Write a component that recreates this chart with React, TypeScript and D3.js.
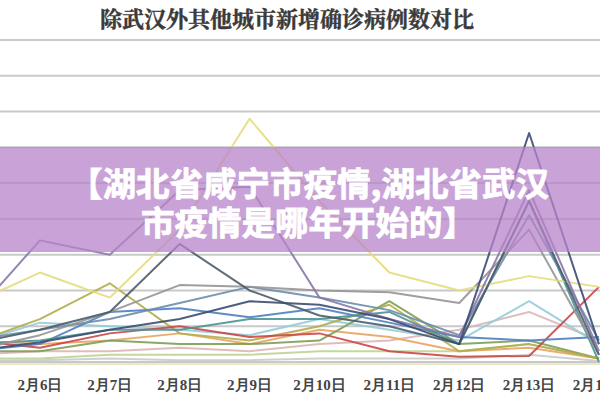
import React from "react";
import * as d3 from "d3";

const dates = ["2月5日", "2月6日", "2月7日", "2月8日", "2月9日", "2月10日", "2月11日", "2月12日", "2月13日", "2月14日"];
const yTicks = [0, 10, 20, 30, 40, 50, 60, 70, 80, 90];

const title = "除武汉外其他城市新增确诊病例数对比";
const bannerLine1 = "【湖北省咸宁市疫情,湖北省武汉";
const bannerLine2 = "市疫情是哪年开始的】";

const seriesNames = ["lightGray", "lightGreen", "pink", "aqua", "orange", "green", "olive", "red", "blue", "teal", "steel", "gray", "yellow", "slate", "purple", "navy"];
const lightGray = [0.3, 0.5, 1, 0.5, 0.5, 1, 1, 1, 2, 0.3];
const lightGreen = [1, 1, 2, 2, 2, 3, 3, 3, 5, 1];
const pink = [2, 3, 3, 4, 3, 5, 6, 9, 14, 6];
const aqua = [5, 11, 10, 9, 7.5, 12, 9, 6, 17, 5];
const orange = [6, 5, 6, 8, 5, 9, 7, 3, 4, 1];
const green = [3, 3, 6, 5, 5, 6, 17, 5, 6, 1];
const olive = [5, 12, 22, 8, 6, 10, 16, 3, 5, 1];
const red = [6, 4, 8, 10, 7, 8, 3, 1.5, 1.7, 21];
const blue = [3, 5, 14, 15, 12.5, 15, 11, 7, 6, 7];
const teal = [5, 6, 9, 9, 12, 12, 14, 5, 45, 0];
const steel = [6, 9, 12, 16.5, 21, 18, 14.5, 7.5, 41, 6];
const gray = [3, 7.5, 14, 21.5, 21, 20, 19.5, 16.5, 37, 2];
const yellow = [16, 25, 18, 37, 68, 45, 25, 20, 24, 21];
const slate = [5, 9, 14, 33, 20, 13, 10, 5, 45, 2];
const purple = [12, 34, 30, 48, 49, 18, 12, 7, 48, 3];
const navy = [3, 5.5, 9, 12, 17, 16, 12, 5, 64, 5];

const seriesValues = [lightGray, lightGreen, pink, aqua, orange, green, olive, red, blue, teal, steel, gray, yellow, slate, purple, navy];
const seriesColors = ["#CACACA", "#BCD494", "#DDB6B6", "#96CCDA", "#E8A462", "#7E9E56", "#B0AE4A", "#CC4646", "#4F7FBF", "#4E9494", "#6C8CAC", "#959595", "#E4DC7C", "#4C5C6C", "#8A78A8", "#3C4C72"];

export default function App() {
  const W = 600;
  const H = 400;
  const x = d3.scalePoint<string>().domain(dates).range([-30, 599]).padding(0);
  const y = d3.scaleLinear().domain([0, 90]).range([362, 40]);
  const line = d3
    .line<number>()
    .x((_, i) => x(dates[i]) as number)
    .y((v) => y(v));

  return (
    <svg
      width={W}
      height={H}
      style={{ position: "absolute", left: 0, top: 0, background: "#fff" }}
    >
      <rect x={0} y={0} width={W} height={H} fill="#fff" />
      <text
        x={287}
        y={27}
        textAnchor="middle"
        fontFamily="'Noto Serif CJK SC', 'Liberation Serif', serif"
        fontWeight={700}
        fontSize={22}
        fill="#3a3a3a"
        stroke="#3a3a3a"
        strokeWidth={0.4}
      >
        {title}
      </text>
      {yTicks.map((t) => (
        <line key={t} x1={0} x2={W} y1={y(t)} y2={y(t)} stroke="#c9c9c9" strokeWidth={2} />
      ))}
      <line x1={0} x2={W} y1={y(0) + 2} y2={y(0) + 2} stroke="#ece9c8" strokeWidth={2} />
      {seriesValues.map((vals, i) => (
        <path
          key={seriesNames[i]}
          d={line(vals) || ""}
          fill="none"
          stroke={seriesColors[i]}
          strokeWidth={2}
          strokeOpacity={0.9}
          strokeLinejoin="round"
        />
      ))}
      {dates
        .filter((d) => (x(d) as number) >= 0)
        .map((d) => (
          <text
            key={d}
            x={x(d) as number}
            y={390}
            textAnchor="middle"
            fontFamily="'Liberation Serif', serif"
            fontWeight={700}
            fontSize={15}
            fill="#444"
          >
            {d}
          </text>
        ))}
      <rect x={0} y={147} width={W} height={105} fill="#b784c9" fillOpacity={0.75} />
      <text
        x={69}
        y={196}
        fontFamily="'Noto Sans CJK SC', sans-serif"
        fontWeight={700}
        fontSize={33.5}
        fill="#fff"
        stroke="#fff"
        strokeWidth={0.8}
      >
        {bannerLine1}
      </text>
      <text
        x={141}
        y={235}
        fontFamily="'Noto Sans CJK SC', sans-serif"
        fontWeight={700}
        fontSize={33.5}
        fill="#fff"
        stroke="#fff"
        strokeWidth={0.8}
      >
        {bannerLine2}
      </text>
    </svg>
  );
}
